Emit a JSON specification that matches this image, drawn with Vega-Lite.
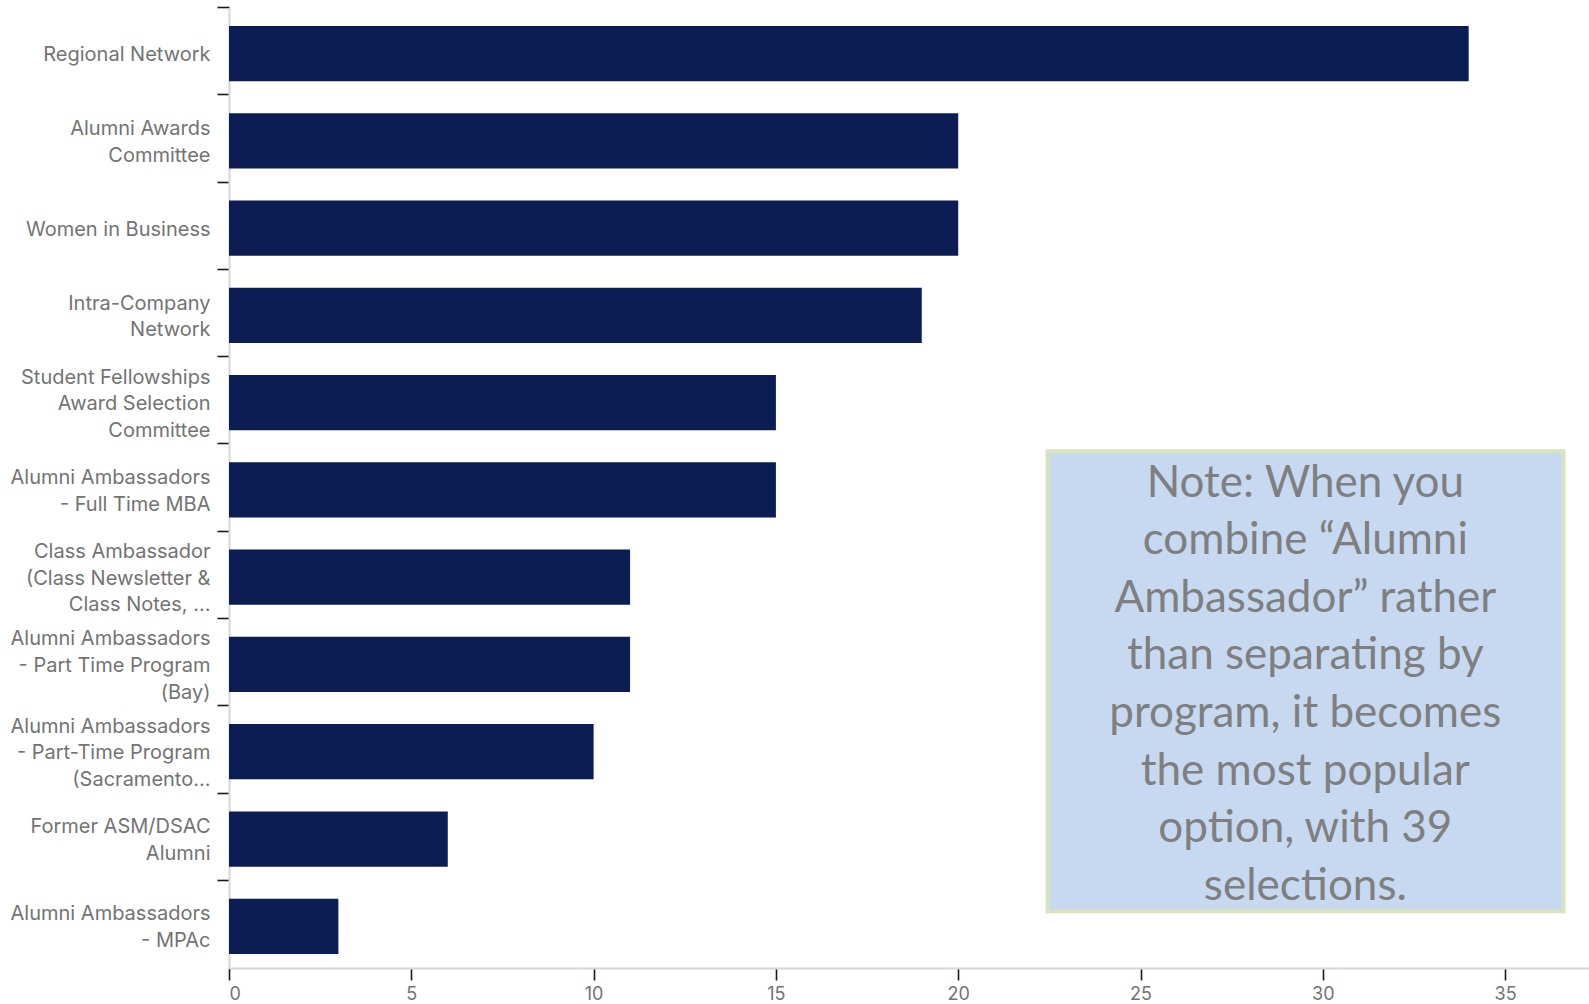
{
  "$schema": "https://vega.github.io/schema/vega-lite/v6.json",
  "width": 1360,
  "height": 960,
  "autosize": "none",
  "padding": {"left": 229, "top": 8, "right": 0, "bottom": 36},
  "background": "white",
  "config": {"view": {"stroke": null}},
  "datasets": {
    "bars": [
      {"category": "Regional Network", "count": 34},
      {"category": "Alumni Awards|Committee", "count": 20},
      {"category": "Women in Business", "count": 20},
      {"category": "Intra-Company|Network", "count": 19},
      {"category": "Student Fellowships|Award Selection|Committee", "count": 15},
      {"category": "Alumni Ambassadors|- Full Time MBA", "count": 15},
      {"category": "Class Ambassador|(Class Newsletter &|Class Notes, …", "count": 11},
      {"category": "Alumni Ambassadors|- Part Time Program|(Bay)", "count": 11},
      {"category": "Alumni Ambassadors|- Part-Time Program|(Sacramento…", "count": 10},
      {"category": "Former ASM/DSAC|Alumni", "count": 6},
      {"category": "Alumni Ambassadors|- MPAc", "count": 3}
    ],
    "note": [
      {"x1": 22.45, "x2": 36.6, "y1": 5.08, "y2": 10.35, "xc": 29.52, "yc": 5.45,
       "text": ["Note: When you", "combine “Alumni", "Ambassador” rather", "than separating by", "program, it becomes", "the most popular", "option, with 39", "selections."]}
    ]
  },
  "layer": [
    {
      "data": {"name": "bars"},
      "mark": {"type": "bar", "color": "#0b1d52"},
      "encoding": {
        "y": {
          "field": "category", "type": "nominal", "sort": null,
          "scale": {"paddingInner": 0.367, "paddingOuter": 0.1835, "align": 0.56},
          "axis": {
            "title": null,
            "labelExpr": "split(datum.value, '|')",
            "labelFont": "Inter", "labelFontSize": 20, "labelColor": "#737373",
            "labelLineHeight": 26.6, "labelPadding": 7, "labelLimit": 300,
            "labelOffset": {
              "condition": [
                {"test": "length(split(datum.value, '|')) == 3", "value": -25.1},
                {"test": "length(split(datum.value, '|')) == 2", "value": -11.8}
              ],
              "value": 1.5
            },
            "bandPosition": -0.332,
            "tickColor": "#1a1a1a", "tickSize": 12, "tickWidth": 1.6,
            "domainColor": "#d6d6d6", "domainWidth": 2
          }
        },
        "x": {
          "field": "count", "type": "quantitative",
          "scale": {"domain": [0, 37.3], "nice": false},
          "axis": {
            "title": null, "grid": false,
            "values": [0, 5, 10, 15, 20, 25, 30, 35],
            "labelFont": "Inter", "labelFontSize": 18, "labelColor": "#737373",
            "labelPadding": 5,
            "tickColor": "#1a1a1a", "tickSize": 12, "tickWidth": 1.6,
            "domainColor": "#d6d6d6", "domainWidth": 2
          }
        }
      }
    },
    {
      "data": {"name": "note"},
      "mark": {"type": "rect", "fill": "#c6d9f0", "stroke": "#d7e4bd", "strokeWidth": 4},
      "encoding": {
        "x": {"field": "x1", "type": "quantitative"},
        "x2": {"field": "x2"},
        "y": {"field": "y1", "type": "quantitative", "scale": {"domain": [0, 11], "reverse": true, "nice": false}, "axis": null},
        "y2": {"field": "y2"}
      }
    },
    {
      "data": {"name": "note"},
      "mark": {"type": "text", "font": "Lato", "fontSize": 44, "color": "#7f7f7f", "align": "center", "baseline": "middle", "lineHeight": 57.6},
      "encoding": {
        "x": {"field": "xc", "type": "quantitative"},
        "y": {"field": "yc", "type": "quantitative", "scale": {"domain": [0, 11], "reverse": true, "nice": false}, "axis": null},
        "text": {"field": "text"}
      }
    }
  ],
  "resolve": {"scale": {"y": "independent"}}
}
